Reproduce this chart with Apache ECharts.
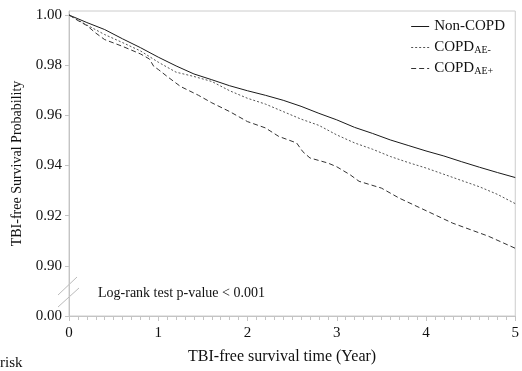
<!DOCTYPE html>
<html><head><meta charset="utf-8">
<script src="https://cdn.jsdelivr.net/npm/echarts@6/dist/echarts.min.js"></script>
<style>html,body{margin:0;padding:0;background:#fff}#c{width:522px;height:371px}</style>
</head><body><div id="c"></div>
<script>
const FONT = '"Liberation Serif","Times New Roman",serif';

const seriesNames = ['Non-COPD', 'COPD_AE-', 'COPD_AE+'];

const timeNon = [0, 0.1, 0.2, 0.4, 0.6, 0.8, 1.0, 1.2, 1.4, 1.6, 1.8, 2.0, 2.2, 2.4, 2.6, 2.8, 3.0, 3.2, 3.4, 3.6, 3.8, 4.0, 4.2, 4.4, 4.6, 4.8, 5.0];
const survNon = [1.000, 0.9985, 0.9970, 0.9942, 0.9905, 0.9870, 0.9832, 0.9797, 0.9765, 0.9742, 0.9718, 0.9698, 0.9680, 0.9660, 0.9636, 0.9608, 0.9582, 0.9552, 0.9528, 0.9502, 0.9480, 0.9458, 0.9438, 0.9415, 0.9393, 0.9372, 0.9352];

const timeAEm = [0, 0.1, 0.2, 0.4, 0.6, 0.8, 1.0, 1.2, 1.4, 1.6, 1.8, 2.0, 2.2, 2.4, 2.6, 2.8, 3.0, 3.2, 3.4, 3.6, 3.8, 4.0, 4.2, 4.4, 4.6, 4.8, 5.0];
const survAEm = [1.000, 0.9980, 0.9960, 0.9922, 0.9890, 0.9857, 0.9812, 0.9772, 0.9755, 0.9735, 0.9698, 0.9668, 0.9645, 0.9615, 0.9585, 0.9560, 0.9522, 0.9490, 0.9465, 0.9436, 0.9412, 0.9390, 0.9365, 0.9340, 0.9315, 0.9285, 0.9248];

const timeAEp = [0, 0.1, 0.2, 0.3, 0.4, 0.6, 0.8, 0.9, 0.95, 1.0, 1.1, 1.25, 1.45, 1.6, 1.8, 2.0, 2.2, 2.35, 2.55, 2.62, 2.7, 2.9, 3.0, 3.15, 3.25, 3.5, 3.7, 4.0, 4.3, 4.7, 5.0];
const survAEp = [1.000, 0.9978, 0.9958, 0.9928, 0.9902, 0.9875, 0.9845, 0.9825, 0.9795, 0.9783, 0.9755, 0.9715, 0.9680, 0.9650, 0.9615, 0.9575, 0.9550, 0.9516, 0.9490, 0.9455, 0.9430, 0.9410, 0.9395, 0.9363, 0.9337, 0.9310, 0.9270, 0.9220, 0.9170, 0.9118, 0.9070];

const xTicks = [0, 1, 2, 3, 4, 5];
const yTickLabels = ['0.00', '0.90', '0.92', '0.94', '0.96', '0.98', '1.00'];

const pairs = (t, s) => t.map((v, i) => [v, s[i]]);

const chart = echarts.init(document.getElementById('c'), null, {renderer: 'canvas'});

const lineColor = ['#1a1a1a', '#555555', '#333333'];
const lineType = ['solid', [2, 2], [5, 3]];
const datas = [pairs(timeNon, survNon), pairs(timeAEm, survAEm), pairs(timeAEp, survAEp)];

chart.setOption({
  animation: false,
  backgroundColor: '#fff',
  textStyle: {fontFamily: FONT},
  grid: {left: 69, right: 2, top: 11, bottom: 55, show: true, borderColor: '#cccccc', borderWidth: 1},
  xAxis: {
    type: 'value', min: 0, max: 5, interval: 1,
    name: 'TBI-free survival time (Year)', nameLocation: 'middle', nameGap: 33,
    nameTextStyle: {fontFamily: FONT, fontSize: 16, color: '#111', padding: [0, 20, 0, 0]},
    axisLine: {show: true, lineStyle: {color: '#c4c4c4', width: 1}},
    axisTick: {show: true, length: 5, lineStyle: {color: '#c4c4c4'}},
    minorTick: {show: true, splitNumber: 10, length: 4, lineStyle: {color: '#c4c4c4'}},
    axisLabel: {fontFamily: FONT, fontSize: 15, color: '#111', margin: 10,
      formatter: v => xTicks.includes(v) ? String(v) : ''},
    splitLine: {show: false}
  },
  yAxis: {
    type: 'value', min: 0.88, max: 1.0016, interval: 0.02,
    name: 'TBI-free Survival Probability', nameLocation: 'middle', nameGap: 45,
    nameTextStyle: {fontFamily: FONT, fontSize: 14, color: '#111'},
    axisLine: {show: true, lineStyle: {color: '#c4c4c4', width: 1}},
    axisTick: {show: true, length: 4, lineStyle: {color: '#c4c4c4'}},
    axisLabel: {fontFamily: FONT, fontSize: 15, color: '#111', margin: 7,
      formatter: v => {
        const idx = Math.round((v - 0.88) / 0.02);
        return yTickLabels[idx] !== undefined ? yTickLabels[idx] : '';
      }},
    splitLine: {show: false}
  },
  legend: {
    show: true,
    orient: 'vertical', right: 12, top: 14, itemGap: 6, itemWidth: 18, itemHeight: 14,
    data: seriesNames,
    itemStyle: {opacity: 0, borderWidth: 0},
    lineStyle: {width: 1},
    formatter: name => {
      if (name === 'Non-COPD') return '{m|Non-COPD}';
      const sub = name.split('_')[1];
      return '{m|COPD}{s|' + sub + '}';
    },
    textStyle: {
      fontFamily: FONT, fontSize: 15, color: '#111',
      rich: {
        m: {fontFamily: FONT, fontSize: 15, color: '#111', lineHeight: 15},
        s: {fontFamily: FONT, fontSize: 10, color: '#111', verticalAlign: 'bottom', lineHeight: 15}
      }
    }
  },
  series: seriesNames.map((n, i) => ({
    name: n, type: 'line', data: datas[i], showSymbol: false, symbol: 'none',
    lineStyle: {color: lineColor[i], width: 1, type: lineType[i]},
    itemStyle: {color: lineColor[i]}
  })),
  graphic: [
    {type: 'line', shape: {x1: 58, y1: 295, x2: 77, y2: 277}, style: {stroke: '#bbbbbb', lineWidth: 1}},
    {type: 'line', shape: {x1: 58, y1: 307, x2: 79, y2: 288}, style: {stroke: '#bbbbbb', lineWidth: 1}},
    {type: 'text', left: 98, top: 286, style: {text: 'Log-rank test p-value < 0.001', font: '14px ' + FONT, fill: '#111'}},
    {type: 'text', left: 0, top: 356, style: {text: 'risk', font: '15px ' + FONT, fill: '#111'}}
  ]
});
</script>
</body></html>
